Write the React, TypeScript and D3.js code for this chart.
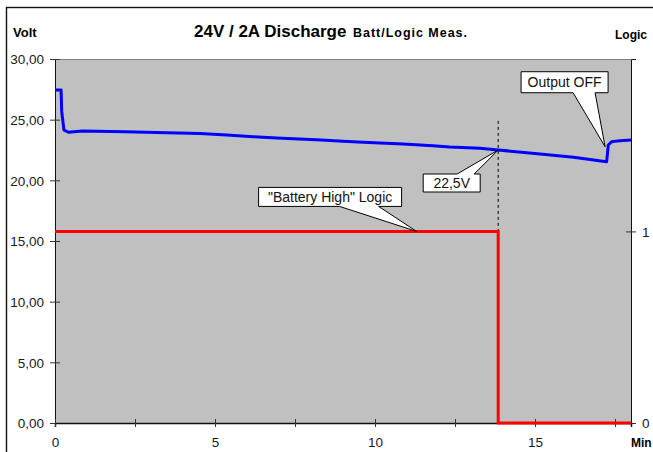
import React, { useEffect, useRef } from 'react';
import * as d3 from 'd3';

// battery voltage during the 24V / 2A discharge (minutes, volts)
const timeMin = [0, 0.19, 0.21, 0.28, 0.42, 0.85, 2.19, 3.49, 4.53, 5.37, 6.19, 6.93, 8.33, 9.0, 9.63, 10.88, 11.81, 12.34, 13.28, 13.85, 15.16, 16.2, 17.24, 17.29, 17.4, 17.66, 18.0];
const battVolt = [27.45, 27.45, 25.66, 24.15, 23.96, 24.07, 24.01, 23.93, 23.85, 23.74, 23.6, 23.49, 23.32, 23.22, 23.13, 23.0, 22.86, 22.75, 22.64, 22.5, 22.17, 21.9, 21.54, 22.91, 23.19, 23.27, 23.32];

// "Battery High" logic output
const logicTime = [0, 13.85, 13.85, 18];
const logicLevel = [1, 1, 0, 0];

const voltTicks = [0, 5, 10, 15, 20, 25, 30];
const minuteTicks = [0, 2.5, 5, 7.5, 10, 12.5, 15, 17.5];
const minuteLabels = [0, 5, 10, 15];
const logicTicks = [0, 1];

const cutoffTime = 13.85;
const cutoffTop = 24.9;

const FONT = '"Liberation Sans", Arial, Helvetica, sans-serif';

export default function App() {
  const ref = useRef<SVGSVGElement>(null);

  useEffect(() => {
    const svg = d3.select(ref.current);
    svg.selectAll('*').remove();

    const width = 653;
    const height = 452;
    const margin = { top: 59, right: 22, bottom: 29, left: 55 };
    const innerWidth = width - margin.left - margin.right;
    const innerHeight = height - margin.top - margin.bottom;

    // chart area border
    svg.append('rect')
      .attr('x', 6.5).attr('y', 7.5)
      .attr('width', width + 20).attr('height', height + 20)
      .attr('fill', '#fff').attr('stroke', '#111').attr('stroke-width', 1.4);

    const g = svg.append('g').attr('transform', `translate(${margin.left},${margin.top})`);

    const x = d3.scaleLinear().domain([0, 18]).range([0, innerWidth]);
    const y = d3.scaleLinear().domain([0, 30]).range([innerHeight, 0]);
    const yLogic = d3.scaleLinear().domain([0, 1.9]).range([innerHeight, 0]);

    g.append('rect')
      .attr('width', innerWidth).attr('height', innerHeight)
      .attr('fill', '#c0c0c0');
    g.append('line')
      .attr('x1', 0).attr('x2', innerWidth).attr('y1', 0.5).attr('y2', 0.5)
      .attr('stroke', '#808080');

    // axes
    const left = g.append('g')
      .call(d3.axisLeft(y).tickValues(voltTicks).tickSizeOuter(0).tickSize(5)
        .tickFormat(d => (+d).toFixed(2).replace('.', ',')));
    left.selectAll('.tick line').attr('x1', 5).attr('stroke', '#333');
    left.selectAll('.tick text').attr('x', -11).attr('dy', '0.36em');

    const right = g.append('g').attr('transform', `translate(${innerWidth},0)`)
      .call(d3.axisRight(yLogic).tickValues(logicTicks).tickSizeOuter(0).tickSize(5).tickFormat(d3.format('d')));
    right.selectAll('.tick line').attr('x1', -5).attr('stroke', '#333');
    right.selectAll('.tick text').attr('x', 11).attr('dy', '0.36em');

    const bottom = g.append('g').attr('transform', `translate(0,${innerHeight})`)
      .call(d3.axisBottom(x).tickValues(minuteTicks).tickSizeOuter(0).tickSize(4)
        .tickFormat(d => (minuteLabels.includes(+d) ? String(d) : '')));
    bottom.selectAll('.tick line').attr('y1', -4).attr('stroke', '#333');
    bottom.selectAll('.tick text').attr('y', 24).attr('dy', 0);
    bottom.select('.domain').attr('stroke-width', 1.5);

    for (const ax of [left, right, bottom]) {
      ax.attr('font-family', FONT).attr('font-size', 13.5);
      ax.selectAll('.tick text').attr('fill', '#1a1a1a');
      ax.select('.domain').attr('stroke', '#111');
    }

    // cutoff marker
    g.append('line')
      .attr('x1', x(cutoffTime)).attr('x2', x(cutoffTime))
      .attr('y1', y(cutoffTop)).attr('y2', y(0))
      .attr('stroke', '#000').attr('stroke-dasharray', '3,3');

    // series
    const volt = timeMin.map((t, i) => [t, battVolt[i]] as [number, number]);
    const logic = logicTime.map((t, i) => [t, logicLevel[i]] as [number, number]);

    g.append('path')
      .datum(logic)
      .attr('fill', 'none').attr('stroke', '#ff0000').attr('stroke-width', 3)
      .attr('d', d3.line<[number, number]>().x(d => x(d[0])).y(d => yLogic(d[1])));

    g.append('path')
      .datum(volt)
      .attr('fill', 'none').attr('stroke', '#0000ff').attr('stroke-width', 3)
      .attr('stroke-linejoin', 'round')
      .attr('d', d3.line<[number, number]>().x(d => x(d[0])).y(d => y(d[1])));

    // callouts: anchor in data units, box and wedge as pixel offsets from it
    const callouts = [
      { text: 'Output OFF', px: x(17.19), py: y(22.77), box: [-84, -75, 87, 21], wedge: [-32, -10], side: 'bottom' },
      { text: '22,5V', px: x(13.85), py: y(22.5), box: [-75, 24, 57, 18], wedge: [-41, -24], side: 'top' },
      { text: '"Battery High" Logic', px: x(11.3), py: yLogic(1), box: [-158, -44, 143, 19], wedge: [-77, -38], side: 'bottom' },
    ];

    for (const c of callouts) {
      const [bx, by, bw, bh] = c.box;
      const l = c.px + bx, t = c.py + by, r = l + bw, b = t + bh;
      const w0 = c.px + c.wedge[0], w1 = c.px + c.wedge[1];
      const p = d3.path();
      p.moveTo(l, t);
      if (c.side === 'top') {
        p.lineTo(w0, t); p.lineTo(c.px, c.py); p.lineTo(w1, t);
      }
      p.lineTo(r, t); p.lineTo(r, b);
      if (c.side === 'bottom') {
        p.lineTo(w1, b); p.lineTo(c.px, c.py); p.lineTo(w0, b);
      }
      p.lineTo(l, b); p.closePath();
      g.append('path').attr('d', p.toString())
        .attr('fill', '#fff').attr('stroke', '#000').attr('stroke-width', 1);
      g.append('text')
        .attr('x', (l + r) / 2).attr('y', (t + b) / 2).attr('dy', '0.36em')
        .attr('text-anchor', 'middle')
        .attr('font-family', FONT).attr('font-size', 14).attr('fill', '#111')
        .text(c.text);
    }

    // titles
    const title = svg.append('text')
      .attr('x', 194).attr('y', 37)
      .attr('font-family', FONT).attr('font-weight', 'bold').attr('fill', '#000');
    title.append('tspan').attr('font-size', 17).text('24V / 2A Discharge ');
    title.append('tspan').attr('font-size', 12.5).attr('x', 353)
      .attr('textLength', 114).attr('lengthAdjust', 'spacing').text('Batt/Logic Meas.');

    svg.append('text').attr('x', 13).attr('y', 37)
      .attr('font-family', FONT).attr('font-weight', 'bold').attr('font-size', 13).text('Volt');
    svg.append('text').attr('x', 615).attr('y', 39)
      .attr('font-family', FONT).attr('font-weight', 'bold').attr('font-size', 12).text('Logic');
    svg.append('text').attr('x', 631).attr('y', 447)
      .attr('font-family', FONT).attr('font-weight', 'bold').attr('font-size', 12).text('Min');
  }, []);

  return (
    <svg ref={ref} width={653} height={452}
      style={{ position: 'absolute', left: 0, top: 0, background: '#fff' }} />
  );
}
